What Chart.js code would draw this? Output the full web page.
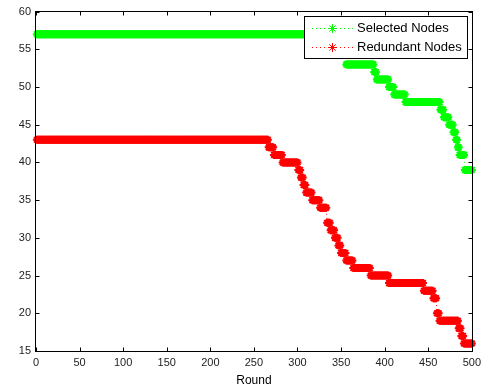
<!DOCTYPE html>
<html>
<head>
<meta charset="utf-8">
<script src="https://cdn.jsdelivr.net/npm/chart.js@4.4.1/dist/chart.umd.min.js"></script>
<style>
  html, body { margin: 0; padding: 0; background: #fff; }
  #wrap { width: 486px; height: 392px; }
</style>
</head>
<body>
<div id="wrap"><canvas id="nodeChart" width="486" height="392"></canvas></div>
<script>
// ── Data: step runs (first round of each run, value held until next run) ──
const lastRound = 500;
const xTicks = [0, 50, 100, 150, 200, 250, 300, 350, 400, 450, 500];
const yTicks = [15, 20, 25, 30, 35, 40, 45, 50, 55, 60];

const selectedStart = [1, 356, 388, 391, 405, 411, 424, 464, 468, 474, 479, 482, 484, 486, 492];
const selectedValue = [57, 53, 52, 51, 50, 49, 48, 47, 46, 45, 44, 43, 42, 41, 39];

const redundantStart = [1, 267, 273, 283, 301, 304, 307, 310, 317, 326, 334, 338, 343, 347, 350, 356, 364, 384, 405, 445, 456, 460, 463, 485, 488, 491];
const redundantValue = [43, 42, 41, 40, 39, 38, 37, 36, 35, 34, 32, 31, 30, 29, 28, 27, 26, 25, 24, 23, 22, 20, 19, 18, 17, 16];

// one point per round, holding each run's value
function expandRuns(starts, values) {
    const pts = [];
    let k = 0;
    for (let r = starts[0]; r <= lastRound; r++) {
        while (k + 1 < starts.length && r >= starts[k + 1]) k++;
        pts.push({ x: r, y: values[k] });
    }
    return pts;
}

const GREEN = '#00ff00';
const RED = '#ff0000';

// ── Matlab style box, inward ticks and legend ──
const matlabFrame = {
    id: 'matlabFrame',
    afterDatasetsDraw(chart) {
        const { ctx, chartArea: a, scales } = chart;
        const L = Math.round(a.left) - 0.5, R = Math.round(a.right) + 0.5;
        const T = Math.round(a.top) - 0.5, B = Math.round(a.bottom) + 0.5;
        ctx.save();
        ctx.strokeStyle = '#000';
        ctx.lineWidth = 1;
        ctx.beginPath();
        xTicks.forEach(v => {
            const x = Math.round(scales.x.getPixelForValue(v)) + 0.5;
            ctx.moveTo(x, B); ctx.lineTo(x, B - 4);
            ctx.moveTo(x, T); ctx.lineTo(x, T + 4);
        });
        yTicks.forEach(v => {
            const y = Math.round(scales.y.getPixelForValue(v)) + 0.5;
            ctx.moveTo(L, y); ctx.lineTo(L + 4, y);
            ctx.moveTo(R, y); ctx.lineTo(R - 4, y);
        });
        ctx.stroke();
        ctx.strokeRect(L, T, R - L, B - T);

        // legend box
        const bx = 304.5, by = 16.5, bw = 163, bh = 42;
        ctx.fillStyle = '#fff';
        ctx.fillRect(bx, by, bw, bh);
        ctx.strokeRect(bx, by, bw, bh);
        const rows = [28, 47];
        chart.data.datasets.forEach((ds, i) => {
            const y = rows[i] + 0.5;
            ctx.strokeStyle = ds.borderColor;
            ctx.setLineDash([1, 3]);
            ctx.beginPath();
            ctx.moveTo(312, y); ctx.lineTo(353, y);
            ctx.stroke();
            ctx.setLineDash([]);
            ctx.strokeStyle = ds.borderColor;
            Chart.helpers.drawPoint(ctx, { pointStyle: 'star', radius: 4.5, borderWidth: 1 }, 332.5, y);
            ctx.fillStyle = '#000';
            ctx.font = '13px "Liberation Sans", Arial, sans-serif';
            ctx.textBaseline = 'middle';
            ctx.fillText(ds.label, 357, y);
        });
        ctx.restore();
    }
};

const tickFont = { family: '"Liberation Sans", Arial, sans-serif', size: 11 };

new Chart(document.getElementById('nodeChart'), {
    type: 'line',
    data: {
        datasets: [
            {
                label: 'Selected Nodes',
                data: expandRuns(selectedStart, selectedValue),
                borderColor: GREEN,
                backgroundColor: GREEN,
                borderWidth: 1,
                borderDash: [1, 3],
                pointStyle: 'star',
                pointRadius: 4,
                pointBorderWidth: 2,
                pointBorderColor: GREEN,
                clip: false
            },
            {
                label: 'Redundant Nodes',
                data: expandRuns(redundantStart, redundantValue),
                borderColor: RED,
                backgroundColor: RED,
                borderWidth: 1,
                borderDash: [1, 3],
                pointStyle: 'star',
                pointRadius: 4,
                pointBorderWidth: 2,
                pointBorderColor: RED,
                clip: false
            }
        ]
    },
    plugins: [matlabFrame],
    options: {
        responsive: false,
        animation: false,
        events: [],
        layout: { padding: { left: 0, top: 9, right: 14, bottom: 0 } },
        plugins: {
            legend: { display: false },
            tooltip: { enabled: false }
        },
        scales: {
            x: {
                type: 'linear',
                min: 0,
                max: 500,
                afterBuildTicks: s => { s.ticks = xTicks.map(v => ({ value: v })); },
                afterFit: s => { s.height = 41; },
                ticks: { font: tickFont, color: '#222', padding: 5, maxRotation: 0 },
                grid: { display: false, drawTicks: false },
                border: { display: false },
                title: {
                    display: true,
                    text: 'Round',
                    color: '#000',
                    font: { family: '"Liberation Sans", Arial, sans-serif', size: 12 },
                    padding: { top: 0, bottom: 4 }
                }
            },
            y: {
                min: 15,
                max: 60,
                afterBuildTicks: s => { s.ticks = yTicks.map(v => ({ value: v })); },
                afterFit: s => { s.width = 36; },
                ticks: { font: tickFont, color: '#222', padding: 5 },
                grid: { display: false, drawTicks: false },
                border: { display: false }
            }
        }
    }
});
</script>
</body>
</html>
